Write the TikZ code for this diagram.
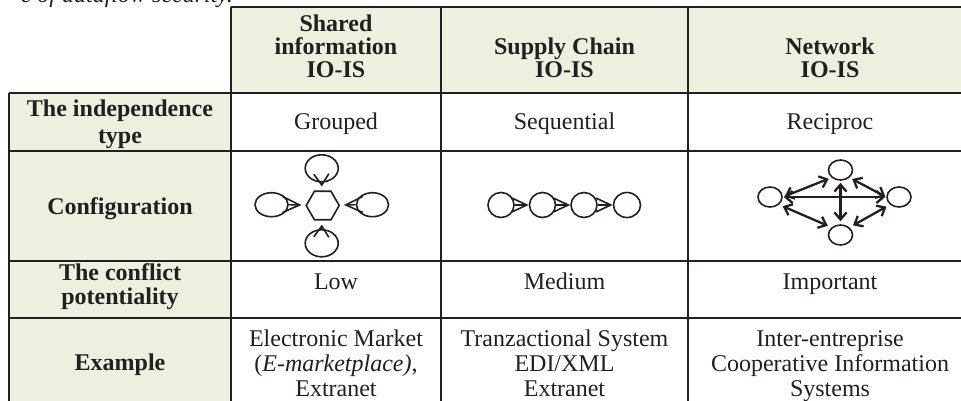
\documentclass[tikz,border=0pt]{standalone}
\usepackage{fontspec}
\setmainfont{Liberation Serif}
\usetikzlibrary{arrows.meta,shapes.geometric}
\definecolor{ink}{HTML}{231F20}
\definecolor{cellgreen}{HTML}{EBF1DE}
\begin{document}
\begin{tikzpicture}[x=1pt,y=-1pt,
  gridline/.style={draw=ink,line width=1.8pt},
  txt/.style={font=\fontsize{24}{24}\selectfont,text=ink,inner sep=0pt,anchor=base},
  btxt/.style={txt,font=\fontsize{24}{24}\selectfont\bfseries},
  circ/.style={ellipse,draw=ink,line width=1.6pt,inner sep=0pt},
  cfgarrow/.style={draw=ink,line width=1.5pt,-{Straight Barb[length=17pt,width=16pt,line width=1.6pt]}},
  cfgarrowv/.style={draw=ink,line width=1.5pt,-{Straight Barb[length=11pt,width=15pt,line width=1.6pt]}},
  smallarrow/.style={draw=ink,line width=1.5pt,-{Straight Barb[length=15pt,width=14pt,line width=1.6pt]}},
  netarrow/.style={draw=ink,line width=2.3pt,{Straight Barb[length=7pt,width=12pt,line width=2.3pt]}-{Straight Barb[length=7pt,width=12pt,line width=2.3pt]}}]
\useasboundingbox (0,0) rectangle (961,400);
\clip (0,0) rectangle (961,400);
% cut-off caption line above the table
\node[txt,font=\fontsize{24}{24}\selectfont\itshape,anchor=base east] (cap) at (233,2.5) {e of dataflow security.};
% fills
\fill[cellgreen] (231,7) rectangle (980,93);
\fill[cellgreen] (9,93) rectangle (231,410);
% grid
\draw[gridline] (231,7) -- (980,7);
\foreach \yy in {93,151,261,318} {\draw[gridline] (9,\yy) -- (980,\yy);}
\draw[gridline] (9,93) -- (9,410);
\foreach \xx in {231,441,688} {\draw[gridline] (\xx,7) -- (\xx,410);}
% header
\node[btxt] (h2a) at (336,31) {Shared};
\node[btxt] (h2b) at (336,54) {information};
\node[btxt] (h2c) at (336,77) {IO-IS};
\node[btxt] (h3a) at (564.5,54) {Supply Chain};
\node[btxt] (h3b) at (564.5,77) {IO-IS};
\node[btxt] (h4a) at (830,54) {Network};
\node[btxt] (h4b) at (830,77) {IO-IS};
% row 1
\node[btxt] (r1a) at (120,116) {The independence};
\node[btxt] (r1b) at (120,143) {type};
\node[txt] (r1c2) at (336,129) {Grouped};
\node[txt] (r1c3) at (564.5,129) {Sequential};
\node[txt] (r1c4) at (830,129) {Reciproc};
% row 2
\node[btxt] (r2a) at (120,214) {Configuration};
% row 3
\node[btxt] (r3a) at (120,280) {The conflict};
\node[btxt] (r3b) at (120,304) {potentiality};
\node[txt] (r3c2) at (336,289) {Low};
\node[txt] (r3c3) at (564.5,289) {Medium};
\node[txt] (r3c4) at (830,289) {Important};
% row 4
\node[btxt] (r4a) at (120,370) {Example};
\node[txt] (r4c2a) at (336,346) {Electronic Market};
\node[txt] (r4c2b) at (336,371) {(\textit{E-marketplace)},};
\node[txt] (r4c2c) at (336,396) {Extranet};
\node[txt] (r4c3a) at (564.5,346) {Tranzactional System};
\node[txt] (r4c3b) at (564.5,371) {EDI/XML};
\node[txt] (r4c3c) at (564.5,396) {Extranet};
\node[txt] (r4c4a) at (830,346) {Inter-entreprise};
\node[txt] (r4c4b) at (830,371) {Cooperative Information};
\node[txt] (r4c4c) at (830,396) {Systems};
% configuration: shared information
\node[regular polygon,regular polygon sides=6,draw=ink,line width=1.6pt,minimum size=33pt,inner sep=0pt] (hex) at (322.7,205.5) {};
\node[circ,minimum width=33pt,minimum height=27pt] (sT) at (321.7,168.3) {};
\node[circ,minimum width=33pt,minimum height=27pt] (sB) at (321.7,243.3) {};
\node[circ,minimum width=33pt,minimum height=24pt] (sL) at (271.5,204.7) {};
\node[circ,minimum width=32pt,minimum height=24pt] (sR) at (372.5,204.7) {};
\draw[cfgarrowv,shorten >=4pt] (sT.south) -- (hex);
\draw[cfgarrowv,shorten >=4pt] (sB.north) -- (hex);
\draw[cfgarrow,shorten >=4pt] (sL.east) -- (hex);
\draw[cfgarrow,shorten >=4pt] (sR.west) -- (hex);
% configuration: supply chain
\node[circ,minimum width=26pt,minimum height=25pt] (c1) at (501,205) {};
\node[circ,minimum width=26pt,minimum height=25pt] (c2) at (542.5,205) {};
\node[circ,minimum width=26pt,minimum height=25pt] (c3) at (584,205) {};
\node[circ,minimum width=27pt,minimum height=25pt] (c4) at (627,205) {};
\draw[smallarrow] (c1.east) -- (c2);
\draw[smallarrow] (c2.east) -- (c3);
\draw[smallarrow] (c3.east) -- (c4);
% configuration: network
\node[circ,minimum width=24pt,minimum height=20pt] (nL) at (770,197) {};
\node[circ,minimum width=24pt,minimum height=20pt] (nT) at (840.5,170) {};
\node[circ,minimum width=24pt,minimum height=20pt] (nR) at (899,197) {};
\node[circ,minimum width=24pt,minimum height=20pt] (nB) at (840.5,235) {};
\draw[netarrow,shorten <=1pt,shorten >=1pt] (nL.east) -- (nR.west);
\draw[netarrow,shorten <=2pt,shorten >=3pt] (nT.south) -- (nB.north);
\draw[netarrow,shorten <=2pt,shorten >=3pt] (nL.east) -- (nT.south west);
\draw[netarrow,shorten <=3pt,shorten >=1pt] (nT.south east) -- (nR.west);
\draw[netarrow,shorten <=4pt,shorten >=4pt] (nL.south east) -- (nB.north west);
\draw[netarrow,shorten <=4pt,shorten >=4pt] (nB.north east) -- (nR.south west);
\end{tikzpicture}
\end{document}
